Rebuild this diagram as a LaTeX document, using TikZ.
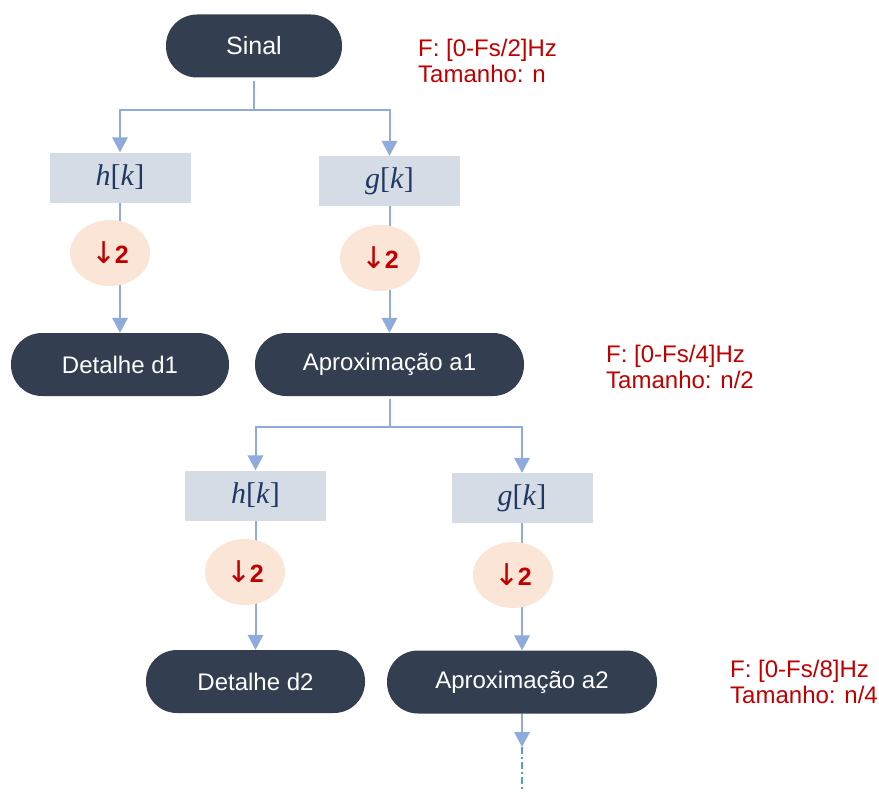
\documentclass[tikz,border=0pt]{standalone}
\usepackage{fontspec}
\setmainfont{Liberation Sans}
\newfontfamily\filterfont{Liberation Serif}
\newfontfamily\symfont{DejaVu Sans}
\usetikzlibrary{arrows.meta,backgrounds,shapes.geometric}

\definecolor{pill}{RGB}{51,63,80}
\definecolor{filterfill}{RGB}{214,220,229}
\definecolor{decfill}{RGB}{251,229,214}
\definecolor{link}{RGB}{143,170,220}
\definecolor{note}{RGB}{192,0,0}
\definecolor{mathblue}{RGB}{32,56,100}
\definecolor{contline}{RGB}{91,155,213}

% filter label such as h[k]: italic letters, upright brackets
\newcommand{\filterlabel}[1]{\textit{#1}[\textit{k}]}
% downsampling-by-two label
\newcommand{\downtwo}{{\symfont\fontsize{30}{30}\selectfont ↓}\kern-1.5pt\textbf{2}}

\begin{document}
\begin{tikzpicture}[x=1pt,y=-1pt,
  pillbox/.style={fill=pill, rounded corners=31pt, minimum height=63pt,
    inner sep=0pt, text=white, font=\fontsize{24}{24}\selectfont},
  filterbox/.style={fill=filterfill, minimum width=141pt, minimum height=50pt,
    inner sep=0pt, text=mathblue, font=\filterfont\fontsize{30}{30}\selectfont},
  decim/.style={ellipse, fill=decfill, minimum width=80pt, minimum height=66pt,
    inner sep=0pt, text=note, font=\fontsize{25}{25}\selectfont},
  notetext/.style={anchor=north west, align=left, inner sep=0pt, text=note,
    font=\fontsize{24}{26}\selectfont},
  conn/.style={draw=link, line width=2pt},
  arr/.style={conn, -{Triangle[width=15.5pt,length=15pt]}},
  contdash/.style={draw=contline, line width=1.5pt,
    dash pattern=on 7pt off 3pt on 2pt off 3pt}
]
\useasboundingbox (0,0) rectangle (879,792);

% first decomposition level
\node[pillbox, minimum width=176pt, font=\fontsize{25}{25}\selectfont] (sinal) at (254,46) {Sinal};
\node[notetext] (n1) at (418,39) {F: [0-Fs/2]Hz\\Tamanho: n};

\node[filterbox] (h1) at (120,177.5) {\filterlabel{h}};
\node[filterbox] (g1) at (389.5,181) {\filterlabel{g}};
\node[decim] (c1) at (110,253) {\downtwo};
\node[decim] (c2) at (380,258) {\downtwo};
\node[pillbox, minimum width=218pt] (d1) at (120,364.5) {Detalhe d1};
\node[pillbox, minimum width=269pt] (a1) at (389.5,364.5) {Aproximação a1};
\node[notetext] (n2) at (606,345) {F: [0-Fs/4]Hz\\Tamanho: n/2};

% second decomposition level
\node[filterbox] (h2) at (255.5,495.5) {\filterlabel{h}};
\node[filterbox] (g2) at (522,498) {\filterlabel{g}};
\node[decim] (c3) at (245,572) {\downtwo};
\node[decim] (c4) at (513,575) {\downtwo};
\node[pillbox, minimum width=219pt] (d2) at (255.5,681.5) {Detalhe d2};
\node[pillbox, minimum width=270pt] (a2) at (522,682) {Aproximação a2};
\node[notetext] (n3) at (730,660) {F: [0-Fs/8]Hz\\Tamanho: n/4};

% connectors, drawn behind the nodes
\begin{scope}[on background layer]
  \coordinate (j1) at (254,110);
  \draw[conn, shorten <=3pt] (sinal.south) -- (j1);
  \draw[arr] (j1) -| (h1.north);
  \draw[arr] (j1) -| (g1.north);
  \draw[arr] (h1.south) -- (d1.north);
  \draw[arr] (g1.south) -- (a1.north);

  \coordinate (j2) at (389.5,427);
  \draw[conn, shorten <=3pt] (a1.south) -- (j2);
  \draw[arr] (j2) -| (h2.north);
  \draw[arr] (j2) -| (g2.north);
  \draw[arr] (h2.south) -- (d2.north);
  \draw[arr] (g2.south) -- (a2.north);

  \coordinate (cont) at (522,747);
  \coordinate (contend) at (522,792);
  \draw[arr] (a2.south) -- (cont);
  \draw[contdash] (cont) -- (contend);
\end{scope}
\end{tikzpicture}
\end{document}
